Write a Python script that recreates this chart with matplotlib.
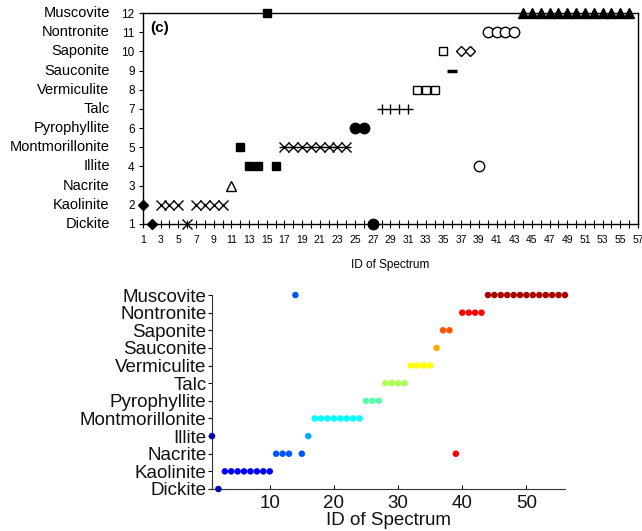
import numpy as np
import matplotlib.pyplot as plt
from matplotlib.transforms import blended_transform_factory

plt.rcParams['font.family'] = ['Liberation Sans', 'DejaVu Sans']

minerals = ['Dickite', 'Kaolinite', 'Nacrite', 'Illite', 'Montmorillonite',
            'Pyrophyllite', 'Talc', 'Vermiculite', 'Sauconite', 'Saponite',
            'Nontronite', 'Muscovite']

# --- panel (c): spectrum id -> class (1 = Dickite ... 12 = Muscovite), grouped by marker
top_groups = [
    # (ids, classes, marker, filled)
    ([1, 2], [2, 1], 'D', True),
    ([3, 4, 5, 6, 7, 8, 9, 10], [2, 2, 2, 1, 2, 2, 2, 2], 'x', False),
    ([11], [3], '^', False),
    ([12, 13, 14, 15, 16], [5, 4, 4, 12, 4], 's', True),
    ([17, 18, 19, 20, 21, 22, 23, 24], [5, 5, 5, 5, 5, 5, 5, 5], 'star', False),
    ([25, 26, 27], [6, 6, 1], 'o', True),
    ([28, 29, 30, 31], [7, 7, 7, 7], '+', False),
    ([32, 33, 34, 35], [8, 8, 8, 10], 's', False),
    ([36], [9], '_', False),
    ([37, 38], [10, 10], 'D', False),
    ([39, 40, 41, 42, 43], [4, 11, 11, 11, 11], 'o', False),
    ([44, 45, 46, 47, 48, 49, 50, 51, 52, 53, 54, 55, 56], [12] * 13, '^', True),
]

# --- lower panel: predicted class and true class (colour) per spectrum id
spec_id = list(range(1, 57))
pred_class = [4, 1, 2, 2, 2, 2, 2, 2, 2, 2, 3, 3, 3, 12, 3, 4,
              5, 5, 5, 5, 5, 5, 5, 5, 6, 6, 6, 7, 7, 7, 7,
              8, 8, 8, 8, 9, 10, 10, 3, 11, 11, 11, 11] + [12] * 13
true_class = [1, 1, 2, 2, 2, 2, 2, 2, 2, 2, 3, 3, 3, 3, 3, 4,
              5, 5, 5, 5, 5, 5, 5, 5, 6, 6, 6, 7, 7, 7, 7,
              8, 8, 8, 8, 9, 10, 10, 11, 11, 11, 11, 11] + [12] * 13

# MATLAB jet(12)
jet12 = [(0, 0, 0.6667), (0, 0, 1), (0, 0.3333, 1), (0, 0.6667, 1), (0, 1, 1),
         (0.3333, 1, 0.6667), (0.6667, 1, 0.3333), (1, 1, 0), (1, 0.6667, 0),
         (1, 0.3333, 0), (1, 0, 0), (0.6667, 0, 0)]

fig = plt.figure(figsize=(6.42, 5.31), dpi=100)

# ---------------- top panel ----------------
ax1 = fig.add_axes([0.2227, 0.5782, 0.7710, 0.3973])
for ids, cls, m, filled in top_groups:
    if m == 'star':
        ax1.plot(ids, cls, linestyle='none', marker='x', ms=6.5, mew=1.0,
                 color='k', clip_on=False, zorder=3)
        ax1.plot(ids, cls, linestyle='none', marker='_', ms=6.5, mew=1.0,
                 color='k', clip_on=False, zorder=3)
        continue
    ms = {'D': 5.5, 'x': 6.5, '^': 6.5, 's': 6, 'o': 7.5, '+': 7, '_': 7}[m]
    mew = 2.5 if m == '_' else 1.0
    ax1.plot(ids, cls, linestyle='none', marker=m, ms=ms, mew=mew,
             mfc='k' if filled else 'white', mec='k', color='k',
             clip_on=False, zorder=3)

ax1.set_xlim(1, 57)
ax1.set_ylim(1, 12)
ax1.set_xticks(range(1, 58))
ax1.set_xticklabels([str(i) if i % 2 == 1 else '' for i in range(1, 58)], fontsize=7.5)
ax1.set_yticks(range(1, 13))
ax1.set_yticklabels([str(i) for i in range(1, 13)], fontsize=8.5)
ax1.tick_params(axis='x', direction='inout', length=6, width=0.8, pad=5)
ax1.tick_params(axis='y', direction='out', length=3, width=0.8, pad=3)
for s in ax1.spines.values():
    s.set_linewidth(1.0)
ax1.set_xlabel('ID of Spectrum', fontsize=8.5, labelpad=10)
ax1.text(0.014, 0.93, '(c)', transform=ax1.transAxes, fontsize=11,
         fontweight='bold', va='center')
trans = blended_transform_factory(ax1.transAxes, ax1.transData)
for i, name in enumerate(minerals, start=1):
    ax1.annotate(name, xy=(0, i), xycoords=trans, xytext=(-24, 0),
                 textcoords='offset points', ha='right', va='center',
                 fontsize=10.5)

# ---------------- bottom panel ----------------
ax2 = fig.add_axes([0.3302, 0.0791, 0.5498, 0.3653])
colors = [jet12[c - 1] for c in true_class]
ax2.scatter(spec_id, pred_class, s=22, c=colors, edgecolors='none',
            clip_on=False, zorder=3)
ax2.set_xlim(1, 56)
ax2.set_ylim(1, 12)
ax2.set_xticks([10, 20, 30, 40, 50])
ax2.set_yticks(range(1, 13))
ax2.set_yticklabels(minerals)
ax2.tick_params(axis='both', labelsize=13.5, colors='#111111')
ax2.tick_params(axis='x', direction='in', length=3, width=0.8, pad=4)
ax2.tick_params(axis='y', direction='out', length=3, width=0.8, pad=1)
ax2.spines['top'].set_visible(False)
ax2.spines['right'].set_visible(False)
for s in ['left', 'bottom']:
    ax2.spines[s].set_color('#333333')
ax2.set_xlabel('ID of Spectrum', fontsize=13.5, labelpad=0, color='#111111')

fig.savefig('out.png', dpi=100)
